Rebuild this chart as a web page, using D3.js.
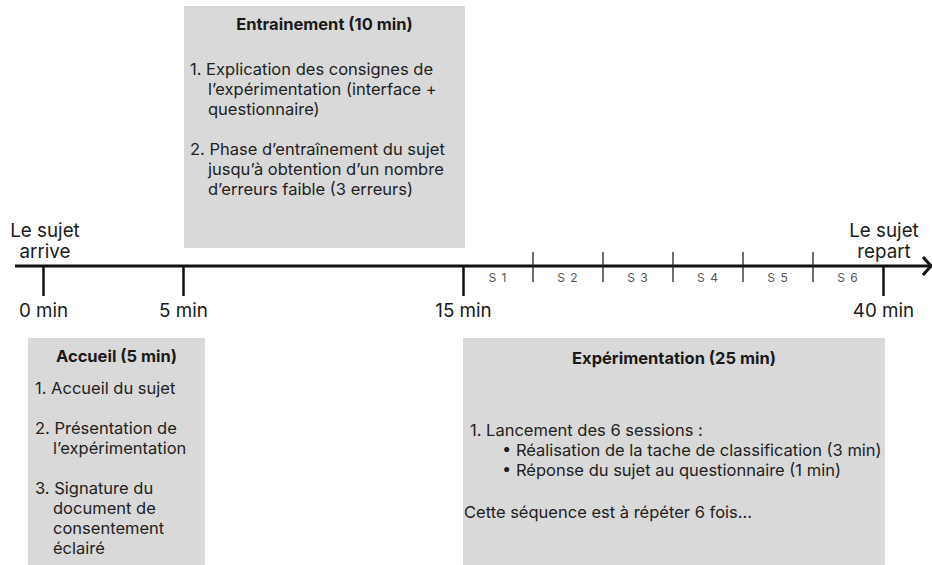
<!DOCTYPE html>
<html>
<head>
<meta charset="utf-8">
<script src="https://cdn.jsdelivr.net/npm/d3@7"></script>
<style>
  body { margin: 0; background: #fff; }
  svg { font-family: Inter, "Noto Sans", sans-serif; }
</style>
</head>
<body>
<div id="chart"></div>
<script>
// timeline data
var tickMinutes = [0, 5, 15, 40];
var tickLabels = ["0 min", "5 min", "15 min", "40 min"];
var sessionLabels = ["S 1", "S 2", "S 3", "S 4", "S 5", "S 6"];
var sessionRange = [15, 40];
var endMinutes = [0, 40];
var endLabels = [["Le sujet", "arrive"], ["Le sujet", "repart"]];

// phases (boxes)
var phaseTitles = ["Accueil (5 min)", "Entrainement (10 min)", "Expérimentation (25 min)"];
var phaseStart = [0, 5, 15];
var phaseEnd = [5, 15, 40];
var phaseParagraphs = [
  [
    ["1. Accueil du sujet"],
    ["2. Présentation de", "l\u2019expérimentation"],
    ["3. Signature du", "document de", "consentement", "éclairé"]
  ],
  [
    ["1. Explication des consignes de", "l\u2019expérimentation (interface +", "questionnaire)"],
    ["2. Phase d\u2019entraînement du sujet", "jusqu\u2019à obtention d\u2019un nombre", "d\u2019erreurs faible (3 erreurs)"]
  ],
  [
    ["1. Lancement des 6 sessions :"],
    ["\u2022 Réalisation de la tache de classification (3 min)", "\u2022 Réponse du sujet au questionnaire (1 min)"],
    ["Cette séquence est à répéter 6 fois..."]
  ]
];

var width = 932, height = 565, axisY = 266;
var fontBody = 16.5, fontAxis = 18.8;

// layout of the boxes (kept apart from the data)
var boxLayout = [
  { padL: 15, padR: 22, top: 338, bottom: 575, titleY: 362, textY: 394, textDx: 7,
    indent: [18, 18, 18], paraGap: [0, 20, 20], paraDx: [0, 0, 0] },
  { padL: -1, padR: 2, top: 6, bottom: 248, titleY: 30, textY: 75, textDx: 6,
    indent: [18, 18], paraGap: [0, 20], paraDx: [0, 0] },
  { padL: 0, padR: 2, top: 338, bottom: 575, titleY: 364, textY: 436, textDx: 7,
    indent: [18, 0, 0], paraGap: [0, 0, 22], paraDx: [0, 32, -6] }
];

var x = d3.scaleLinear().domain([0, 15, 40]).range([43, 463, 883]);

var svg = d3.select("#chart").append("svg")
  .attr("width", width)
  .attr("height", height);

// boxes
var boxes = svg.selectAll(".phase")
  .data(phaseTitles.map(function(t, i) { return { title: t, i: i }; }))
  .enter().append("g")
  .attr("class", "phase");

boxes.append("rect")
  .attr("x", function(d) { return x(phaseStart[d.i]) - boxLayout[d.i].padL; })
  .attr("y", function(d) { return boxLayout[d.i].top; })
  .attr("width", function(d) { return x(phaseEnd[d.i]) + boxLayout[d.i].padR - x(phaseStart[d.i]) + boxLayout[d.i].padL; })
  .attr("height", function(d) { return boxLayout[d.i].bottom - boxLayout[d.i].top; })
  .attr("fill", "#d9d9d9");

boxes.append("text")
  .attr("x", function(d) {
    var L = boxLayout[d.i];
    var x0 = x(phaseStart[d.i]) - L.padL, x1 = x(phaseEnd[d.i]) + L.padR;
    return (x0 + x1) / 2;
  })
  .attr("y", function(d) { return boxLayout[d.i].titleY; })
  .attr("text-anchor", "middle")
  .attr("font-size", fontBody)
  .attr("font-weight", 700)
  .attr("fill", "#1a1a1a")
  .text(function(d) { return d.title; });

boxes.each(function(d) {
  var L = boxLayout[d.i];
  var g = d3.select(this);
  var left = x(phaseStart[d.i]) - L.padL + L.textDx;
  var y = L.textY;
  phaseParagraphs[d.i].forEach(function(lines, p) {
    y += L.paraGap[p];
    lines.forEach(function(line, k) {
      g.append("text")
        .attr("x", left + L.paraDx[p] + (k > 0 ? L.indent[p] : 0))
        .attr("y", y)
        .attr("font-size", fontBody)
        .attr("fill", "#222")
        .text(line);
      y += 20;
    });
  });
});

// main line
svg.append("line")
  .attr("x1", 15).attr("x2", 930)
  .attr("y1", axisY).attr("y2", axisY)
  .attr("stroke", "#111")
  .attr("stroke-width", 3);

svg.append("path")
  .attr("d", "M923,257 L931,266 L923,275")
  .attr("fill", "none")
  .attr("stroke", "#111")
  .attr("stroke-width", 3);

// major ticks
var axis = d3.axisBottom(x)
  .tickValues(tickMinutes)
  .tickFormat(function(d, i) { return tickLabels[i]; })
  .tickSize(30)
  .tickPadding(8);

var ax = svg.append("g")
  .attr("transform", "translate(0," + axisY + ")")
  .call(axis);
ax.select(".domain").remove();
ax.selectAll(".tick line").attr("stroke", "#111").attr("stroke-width", 2.5);
ax.selectAll(".tick text")
  .attr("font-family", "Inter, 'Noto Sans', sans-serif")
  .attr("font-size", fontAxis)
  .attr("fill", "#1a1a1a");

// sessions
var step = (sessionRange[1] - sessionRange[0]) / sessionLabels.length;
var sessionBounds = d3.range(1, sessionLabels.length).map(function(i) { return sessionRange[0] + i * step; });

svg.selectAll(".sep")
  .data(sessionBounds)
  .enter().append("line")
  .attr("class", "sep")
  .attr("x1", function(d) { return x(d); })
  .attr("x2", function(d) { return x(d); })
  .attr("y1", axisY - 14).attr("y2", axisY + 16)
  .attr("stroke", "#222")
  .attr("stroke-width", 1.3);

svg.selectAll(".slabel")
  .data(sessionLabels)
  .enter().append("text")
  .attr("class", "slabel")
  .attr("x", function(d, i) { return x(sessionRange[0] + (i + 0.5) * step); })
  .attr("y", axisY + 16)
  .attr("text-anchor", "middle")
  .attr("font-size", 12)
  .attr("letter-spacing", 1)
  .attr("fill", "#555")
  .text(function(d) { return d; });

// start / end labels
svg.selectAll(".endlabel")
  .data(endLabels)
  .enter().append("text")
  .attr("class", "endlabel")
  .attr("x", function(d, i) { return x(endMinutes[i]) + (i === 0 ? 2 : 1); })
  .attr("y", 237)
  .attr("text-anchor", "middle")
  .attr("font-size", fontAxis)
  .attr("fill", "#1a1a1a")
  .selectAll("tspan")
  .data(function(d) { return d; })
  .enter().append("tspan")
  .attr("x", function() { return d3.select(this.parentNode).attr("x"); })
  .attr("dy", function(d, i) { return i === 0 ? 0 : 21; })
  .text(function(d) { return d; });
</script>
</body>
</html>
